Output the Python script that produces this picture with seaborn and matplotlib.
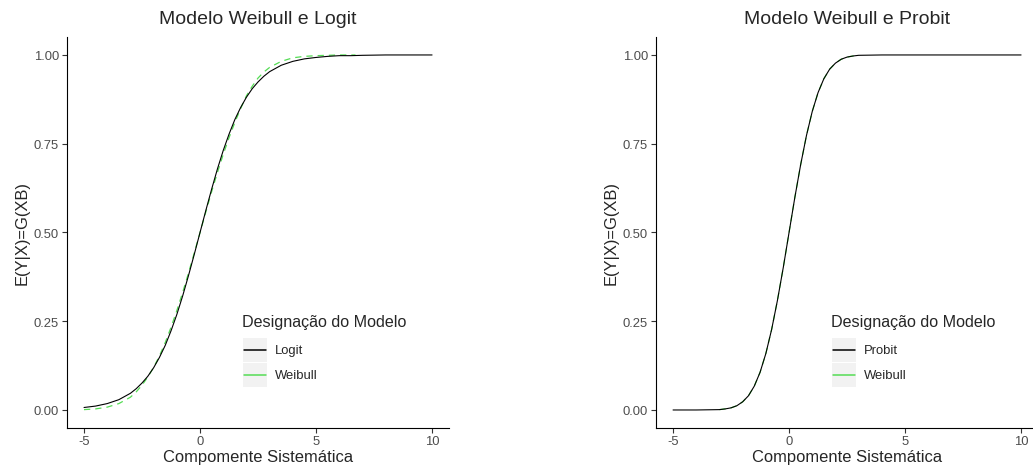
import matplotlib.pyplot as plt
import matplotlib.patches as mpatches
from matplotlib.lines import Line2D
import seaborn as sns

# valores
x_logit = [-5, -4.5, -4, -3.5, -3, -2.75, -2.5, -2.25, -2, -1.75, -1.5, -1.25, -1, -0.75, -0.5, -0.25, 0, 0.25, 0.5, 0.75, 1, 1.25, 1.5, 1.75, 2, 2.25, 2.5, 2.75, 3, 3.5, 4, 4.5, 5, 5.5, 6, 6.5, 7, 8, 9, 10]
y_logit = [0.007, 0.011, 0.018, 0.029, 0.047, 0.060, 0.076, 0.095, 0.119, 0.148, 0.182, 0.223, 0.269, 0.321, 0.378, 0.438, 0.5, 0.562, 0.622, 0.679, 0.731, 0.777, 0.818, 0.852, 0.881, 0.905, 0.924, 0.940, 0.953, 0.971, 0.982, 0.989, 0.993, 0.996, 0.998, 0.998, 0.999, 1.0, 1.0, 1.0]

x_weib1 = [-5, -4.5, -4, -3.5, -3, -2.75, -2.5, -2.25, -2, -1.75, -1.5, -1.25, -1, -0.75, -0.5, -0.25, 0, 0.25, 0.5, 0.75, 1, 1.25, 1.5, 1.75, 2, 2.25, 2.5, 2.75, 3, 3.5, 4, 4.5, 5, 5.5, 6, 6.7]
y_weib1 = [0.001, 0.003, 0.008, 0.018, 0.036, 0.051, 0.07, 0.093, 0.12, 0.152, 0.19, 0.233, 0.28, 0.331, 0.385, 0.442, 0.5, 0.558, 0.615, 0.669, 0.72, 0.767, 0.81, 0.849, 0.885, 0.912, 0.935, 0.952, 0.965, 0.982, 0.992, 0.996, 0.998, 0.999, 1.0, 1.0]

x_probit = [-5, -4, -3, -2.75, -2.5, -2.25, -2, -1.75, -1.5, -1.25, -1, -0.75, -0.5, -0.25, 0, 0.25, 0.5, 0.75, 1, 1.25, 1.5, 1.75, 2, 2.25, 2.5, 2.75, 3, 4, 5, 6, 7, 8, 9, 10]
y_probit = [0.0, 0.0, 0.001, 0.003, 0.006, 0.012, 0.023, 0.040, 0.067, 0.106, 0.159, 0.227, 0.309, 0.401, 0.5, 0.599, 0.691, 0.773, 0.841, 0.894, 0.933, 0.960, 0.977, 0.988, 0.994, 0.997, 0.999, 1.0, 1.0, 1.0, 1.0, 1.0, 1.0, 1.0]

x_weib2 = [-3, -2.75, -2.5, -2.25, -2, -1.75, -1.5, -1.25, -1, -0.75, -0.5, -0.25, 0, 0.25, 0.5, 0.75, 1, 1.25, 1.5, 1.75, 2, 2.25, 2.5, 2.75, 3]
y_weib2 = [0.001, 0.003, 0.006, 0.012, 0.023, 0.040, 0.067, 0.106, 0.159, 0.227, 0.309, 0.401, 0.5, 0.599, 0.691, 0.773, 0.841, 0.894, 0.933, 0.960, 0.977, 0.988, 0.994, 0.997, 0.999]

yticks = [0.0, 0.25, 0.5, 0.75, 1.0]
ytick_labels = ["0.00", "0.25", "0.50", "0.75", "1.00"]
xticks = [-5, 0, 5, 10]

sns.set_style("white")
plt.rcParams['font.family'] = ['Liberation Sans', 'DejaVu Sans']

verde = '#55dd55'
cinza_txt = '#4d4d4d'
W, H = 1033, 477

fig = plt.figure(figsize=(10.33, 4.77), dpi=100)
ax1 = fig.add_axes([0.0645, 0.1012, 0.3706, 0.8187])
ax2 = fig.add_axes([0.6347, 0.1012, 0.3706, 0.8187])


def px(x, y):
    # pixel -> fracao da figura
    return x / W, 1 - y / H


paineis = [
    (ax1, x_logit, y_logit, x_weib1, y_weib1, 'Logit', 'Modelo Weibull e Logit', 0),
    (ax2, x_probit, y_probit, x_weib2, y_weib2, 'Probit', 'Modelo Weibull e Probit', 589),
]

for ax, xa, ya, xw, yw, nome, titulo, dx in paineis:
    sns.lineplot(x=xw, y=yw, ax=ax, color=verde, linewidth=0.9)
    ax.lines[-1].set_dashes([5, 4])
    sns.lineplot(x=xa, y=ya, ax=ax, color='black', linewidth=0.8)

    ax.set_xlim(-5.75, 10.75)
    ax.set_ylim(-0.05, 1.05)
    ax.set_xticks(xticks)
    ax.set_xticklabels([str(t) for t in xticks])
    ax.set_yticks(yticks)
    ax.set_yticklabels(ytick_labels)
    ax.tick_params(axis='both', which='both', direction='out', length=3.5, width=0.8,
                   color='#333333', labelcolor=cinza_txt, labelsize=9.4, pad=2,
                   bottom=True, left=True)
    sns.despine(ax=ax)
    for s in ['left', 'bottom']:
        ax.spines[s].set_color('black')
        ax.spines[s].set_linewidth(0.8)

    ax.set_title(titulo, fontsize=14, pad=10)
    ax.set_xlabel('Compomente Sistemática', fontsize=11.9, labelpad=1)
    ax.set_ylabel('E(Y|X)=G(XB)', fontsize=11.9, labelpad=3)

    # legenda feita a mao, com fundo cinza nas chaves como no ggplot
    fig.text(*px(242 + dx, 323), 'Designação do Modelo', fontsize=11.6, ha='left', va='center')
    for k, (rot, cor) in enumerate([(nome, 'black'), ('Weibull', verde)]):
        y0 = 339 + k * 25
        x0, y1 = px(243 + dx, y0 + 24)
        fig.add_artist(mpatches.Rectangle((x0, y1), 24 / W, 24 / H, facecolor='#f2f2f2',
                                          edgecolor='none', transform=fig.transFigure))
        xa0, yc = px(244 + dx, y0 + 12)
        xa1, _ = px(266 + dx, y0 + 12)
        fig.add_artist(Line2D([xa0, xa1], [yc, yc], color=cor, linewidth=1.1, transform=fig.transFigure))
        fig.text(*px(275 + dx, y0 + 12), rot, fontsize=9.4, ha='left', va='center')

plt.savefig('out.png', dpi=100)
